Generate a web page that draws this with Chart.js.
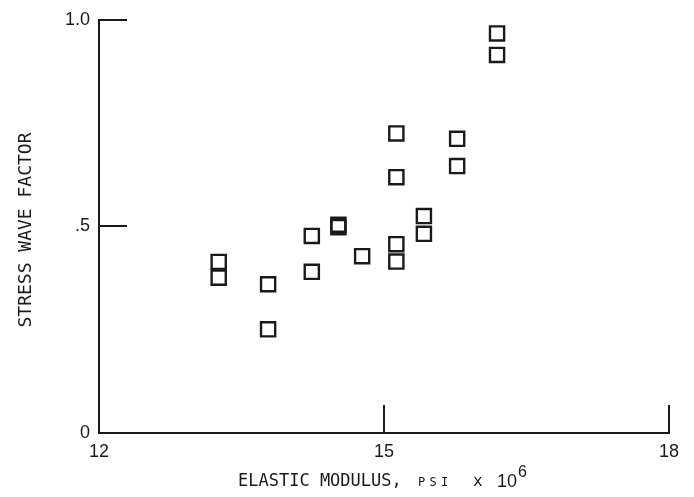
<!DOCTYPE html>
<html>
<head>
<meta charset="utf-8">
<script src="https://cdn.jsdelivr.net/npm/chart.js@4.4.0/dist/chart.umd.min.js"></script>
<style>
  html, body { margin: 0; padding: 0; background: #fff; }
  canvas { display: block; }
</style>
</head>
<body>
<canvas id="chart" width="694" height="497"></canvas>
<script>
// values
const modulus = [13.26, 13.26, 13.78, 13.78, 14.24, 14.24, 14.52, 14.52, 14.77,
                 15.13, 15.13, 15.13, 15.13, 15.42, 15.42, 15.77, 15.77, 16.19, 16.19];
const waveFactor = [0.414, 0.376, 0.36, 0.251, 0.477, 0.39, 0.504, 0.498, 0.428,
                    0.725, 0.619, 0.457, 0.415, 0.525, 0.482, 0.712, 0.646, 0.967, 0.915];

const xTicks = [12, 15, 18];
const yTicks = [0, 0.5, 1.0];
const yTickLabels = ['0', '.5', '1.0'];

const ink = '#1a1a1a';
const monoFont = '"DejaVu Sans Mono", monospace';
const numFont = '"Liberation Sans", Arial, sans-serif';

// short tick marks pointing into the plot, plus the axis titles
const axisDecor = {
  id: 'axisDecor',
  afterDraw(chart) {
    const { ctx, chartArea: a } = chart;
    const x = chart.scales.x, y = chart.scales.y;
    ctx.save();
    ctx.strokeStyle = ink;
    ctx.lineWidth = 2;
    ctx.beginPath();
    xTicks.forEach(v => {
      const px = Math.round(x.getPixelForValue(v));
      ctx.moveTo(px, a.bottom);
      ctx.lineTo(px, a.bottom - 28);
    });
    yTicks.forEach(v => {
      const py = Math.round(y.getPixelForValue(v));
      ctx.moveTo(a.left, py);
      ctx.lineTo(a.left + 28, py);
    });
    ctx.stroke();

    ctx.fillStyle = ink;
    ctx.textBaseline = 'alphabetic';
    ctx.textAlign = 'left';

    // x title: ELASTIC MODULUS, PSI x 10^6
    ctx.font = '17px ' + monoFont;
    ctx.fillText('ELASTIC MODULUS,', 238, 486);
    ctx.font = '12px ' + monoFont;
    ['P', 'S', 'I'].forEach((ch, i) => ctx.fillText(ch, 418 + i * 11.5, 486));
    ctx.font = '16px ' + monoFont;
    ctx.fillText('x', 473, 486);
    ctx.font = '18px ' + numFont;
    ctx.fillText('10', 497, 487);
    ctx.font = '16px ' + numFont;
    ctx.fillText('6', 518, 477);

    // y title
    ctx.translate(31, 230);
    ctx.rotate(-Math.PI / 2);
    ctx.textAlign = 'center';
    ctx.font = '18px ' + monoFont;
    ctx.fillText('STRESS WAVE FACTOR', 0, 0);
    ctx.restore();
  }
};

new Chart(document.getElementById('chart'), {
  type: 'scatter',
  data: {
    datasets: [{
      data: modulus.map((m, i) => ({ x: m, y: waveFactor[i] })),
      pointStyle: 'rect',
      pointRadius: 10,
      pointHoverRadius: 10,
      borderWidth: 2.4,
      borderColor: ink,
      backgroundColor: 'rgba(0,0,0,0)'
    }]
  },
  options: {
    responsive: false,
    animation: false,
    events: [],
    layout: { padding: { left: 0, top: 19, right: 25, bottom: 0 } },
    plugins: { legend: { display: false }, tooltip: { enabled: false } },
    scales: {
      x: {
        type: 'linear',
        min: xTicks[0],
        max: xTicks[xTicks.length - 1],
        afterBuildTicks: s => { s.ticks = xTicks.map(v => ({ value: v })); },
        afterFit: s => { s.height = 64; },
        grid: { display: false, drawTicks: false },
        border: { display: true, color: ink, width: 2 },
        ticks: { color: ink, padding: 8, font: { family: numFont, size: 18 } }
      },
      y: {
        type: 'linear',
        min: yTicks[0],
        max: yTicks[yTicks.length - 1],
        afterBuildTicks: s => { s.ticks = yTicks.map(v => ({ value: v })); },
        afterFit: s => { s.width = 99; },
        grid: { display: false, drawTicks: false },
        border: { display: true, color: ink, width: 2 },
        ticks: {
          color: ink,
          padding: 9,
          font: { family: numFont, size: 18 },
          callback: v => yTickLabels[yTicks.indexOf(v)]
        }
      }
    }
  },
  plugins: [axisDecor]
});
</script>
</body>
</html>
